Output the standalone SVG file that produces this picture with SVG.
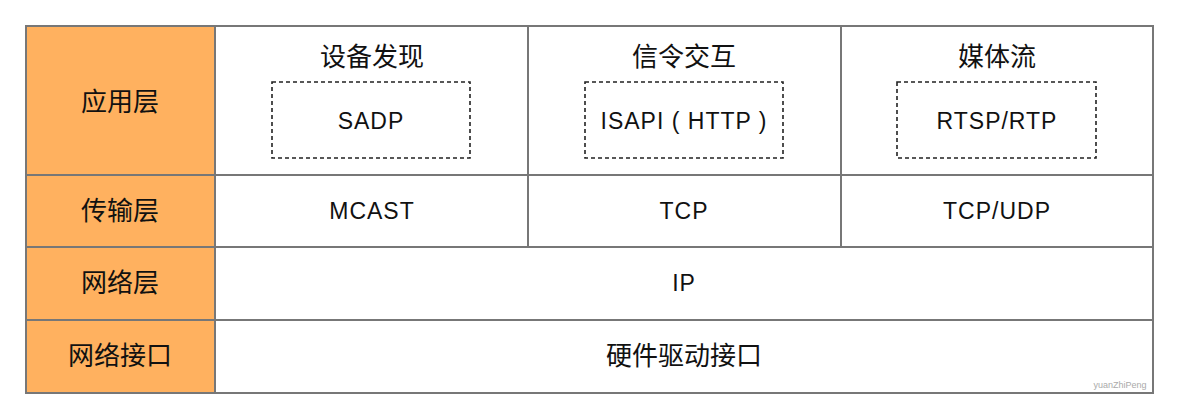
<svg xmlns="http://www.w3.org/2000/svg" width="1179" height="419" viewBox="0 0 1179 419">
<style>
.cell{stroke:#777;stroke-width:2;fill:#fff}
.lbl{fill:#ffb15f}
.dash{fill:none;stroke:#222;stroke-width:1.6;stroke-dasharray:4 3}
text{font-family:"Liberation Sans","Noto Sans CJK SC",sans-serif;fill:#111;text-anchor:middle;dominant-baseline:central}
.cn{font-size:26px}
.en{font-size:23px;letter-spacing:1px}
</style>
<rect width="1179" height="419" fill="#fff"/>
<g id="row-app">
<rect class="cell lbl" x="26" y="26" width="189" height="149"/>
<text class="cn" x="120" y="102">应用层</text>
</g>
<g id="row-transport">
<rect class="cell lbl" x="26" y="175" width="189" height="72"/>
<text class="cn" x="120" y="211">传输层</text>
</g>
<g id="row-network">
<rect class="cell lbl" x="26" y="247" width="189" height="73"/>
<text class="cn" x="120" y="283">网络层</text>
</g>
<g id="row-interface">
<rect class="cell lbl" x="26" y="320" width="189" height="73"/>
<text class="cn" x="120" y="356">网络接口</text>
</g>
<g id="discovery">
<rect class="cell" x="215" y="26" width="313" height="149"/>
<text class="cn" x="372" y="57">设备发现</text>
<rect class="dash" x="272" y="82" width="198" height="76"/>
<text class="en" x="371" y="121">SADP</text>
</g>
<g id="signaling">
<rect class="cell" x="528" y="26" width="313" height="149"/>
<text class="cn" x="684" y="57">信令交互</text>
<rect class="dash" x="585" y="82" width="198" height="76"/>
<text class="en" x="684" y="121">ISAPI ( HTTP )</text>
</g>
<g id="media">
<rect class="cell" x="841" y="26" width="312" height="149"/>
<text class="cn" x="997" y="57">媒体流</text>
<rect class="dash" x="897" y="82" width="199" height="76"/>
<text class="en" x="997" y="121">RTSP/RTP</text>
</g>
<g id="mcast">
<rect class="cell" x="215" y="175" width="313" height="72"/>
<text class="en" x="372" y="211">MCAST</text>
</g>
<g id="tcp">
<rect class="cell" x="528" y="175" width="313" height="72"/>
<text class="en" x="684" y="211">TCP</text>
</g>
<g id="tcpudp">
<rect class="cell" x="841" y="175" width="312" height="72"/>
<text class="en" x="997" y="211">TCP/UDP</text>
</g>
<g id="ip">
<rect class="cell" x="215" y="247" width="938" height="73"/>
<text class="en" x="684" y="283">IP</text>
</g>
<g id="hw">
<rect class="cell" x="215" y="320" width="938" height="73"/>
<text class="cn" x="684" y="356">硬件驱动接口</text>
</g>
<g id="connectors"></g>
<text x="1120" y="385" style="font-size:9px;fill:#aaa">yuanZhiPeng</text>
</svg>
